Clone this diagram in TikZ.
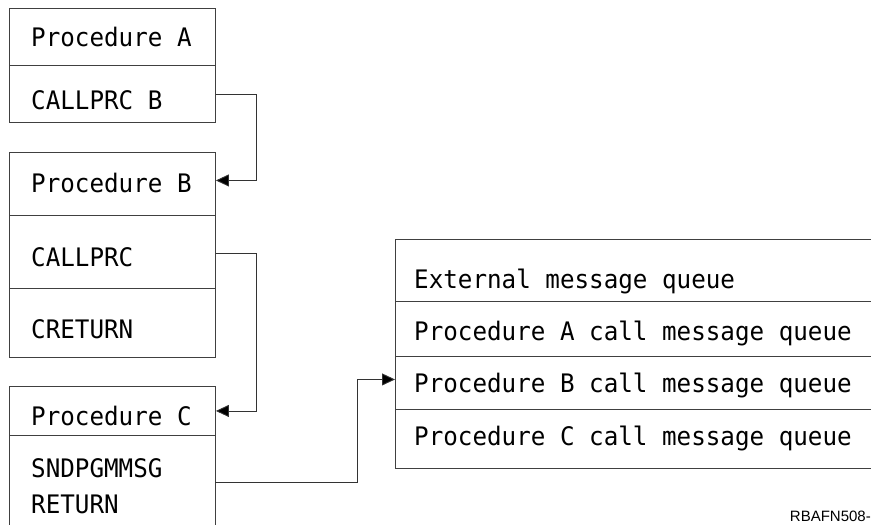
\documentclass[tikz,border=0pt]{standalone}
\usepackage{fontspec}
\setmainfont{Liberation Sans}
\newfontfamily\diamono{DejaVu Sans Mono}[FakeStretch=0.95]
\usetikzlibrary{arrows.meta}
\tikzset{
  cell/.style={draw=black!75, line width=0.9pt, anchor=north west, inner sep=0pt, minimum width=206pt},
  qcell/.style={draw=black!75, line width=0.9pt, anchor=north west, inner sep=0pt, minimum width=500pt},
  txt/.style={anchor=base west, inner sep=0pt, font=\diamono\fontsize{25.5}{30}\selectfont},
  conn/.style={draw=black!80, line width=0.9pt},
  arr/.style={conn, -{Triangle[length=13pt,width=12pt,fill=black]}},
  fig/.style={anchor=base east, inner sep=0pt, font=\fontsize{15}{18}\selectfont}
}
\begin{document}
\begin{tikzpicture}[x=1pt,y=-1pt]
\useasboundingbox (0,0) rectangle (871,525);
% Procedure A
\node[cell, minimum height=57pt] (ahead) at (9,8) {};
\node[cell, minimum height=57pt] (acall) at (9,65) {};
\node[txt] (ta1) at (31,46) {Procedure A};
\node[txt] (ta2) at (31,109) {CALLPRC B};
% Procedure B
\node[cell, minimum height=63pt] (bhead) at (9,152) {};
\node[cell, minimum height=73pt] (bcall) at (9,215) {};
\node[cell, minimum height=69pt] (bret) at (9,288) {};
\node[txt] (tb1) at (31,192) {Procedure B};
\node[txt] (tb2) at (31,266) {CALLPRC};
\node[txt] (tb3) at (31,338) {CRETURN};
% Procedure C
\node[cell, minimum height=49pt] (chead) at (9,386) {};
\node[cell, minimum height=110pt] (cbody) at (9,435) {};
\node[txt] (tc1) at (31,425) {Procedure C};
\node[txt] (tc2) at (31,477) {SNDPGMMSG};
\node[txt] (tc3) at (31,513) {RETURN};
\coordinate (cout) at (215,482);
% Message queues
\node[qcell, minimum height=62pt] (qe) at (395,239) {};
\node[qcell, minimum height=55pt] (qa) at (395,301) {};
\node[qcell, minimum height=53pt] (qb) at (395,356) {};
\node[qcell, minimum height=59pt] (qc) at (395,409) {};
\node[txt] (tq1) at (414,288) {External message queue};
\node[txt] (tq2) at (414,340) {Procedure A call message queue};
\node[txt] (tq3) at (414,392) {Procedure B call message queue};
\node[txt] (tq4) at (414,445) {Procedure C call message queue};
% connectors
\draw[arr] (acall.east) -- ++(41,0) |- ([yshift=3.5pt]bhead.east);
\draw[arr] ([yshift=-1.5pt]bcall.east) -- ++(41,0) |- (chead.east);
\draw[arr] (cout) -- ++(142,0) |- ([yshift=3.5pt]qb.west);
% figure id
\node[fig] (fid) at (871,521) {RBAFN508-};
\end{tikzpicture}
\end{document}
